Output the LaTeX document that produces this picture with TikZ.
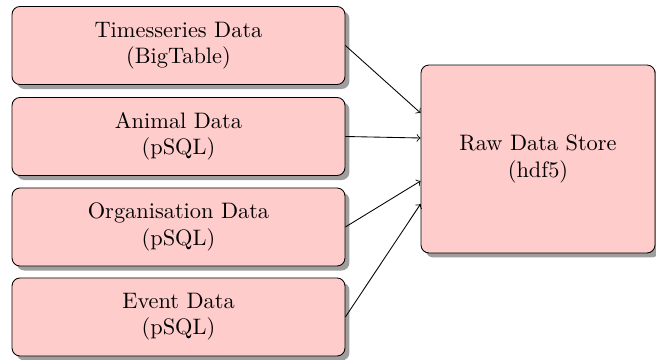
\documentclass[tikz,border=0pt]{standalone}
\usetikzlibrary{shadows,calc}
\begin{document}
\begin{tikzpicture}[x={(0.465pt,0)},y={(0,-0.465pt)},
  srcbox/.style={draw=black, fill=red!20, rounded corners=3.7pt, align=center,
    font={\fontsize{10.4pt}{12.2pt}\selectfont},
    minimum width=154.8pt, minimum height=36.3pt, inner sep=0pt,
    drop shadow={shadow xshift=2.1pt, shadow yshift=-2.1pt, fill=black!38, opacity=1}},
  storebox/.style={srcbox, minimum width=108.8pt, minimum height=87.4pt},
  flow/.style={->}]
\useasboundingbox (0,0) rectangle (656,360);
\node[srcbox] (ts) at (178.5,45.5) {Timesseries Data\\(BigTable)};
\node[srcbox] (an) at (178.5,136.5) {Animal Data\\(pSQL)};
\node[srcbox] (org) at (178.5,227) {Organisation Data\\(pSQL)};
\node[srcbox] (ev) at (178.5,317) {Event Data\\(pSQL)};
\node[storebox] (rds) at (538,159) {Raw Data Store\\(hdf5)};
\coordinate (in1) at ($(rds.west)+(0,-46)$);
\coordinate (in2) at ($(rds.west)+(0,-21)$);
\coordinate (in3) at ($(rds.west)+(0,22)$);
\coordinate (in4) at ($(rds.west)+(0,45)$);
\draw[flow] (ts.east) -- (in1);
\draw[flow] (an.east) -- (in2);
\draw[flow] (org.east) -- (in3);
\draw[flow] (ev.east) -- (in4);
\end{tikzpicture}
\end{document}
